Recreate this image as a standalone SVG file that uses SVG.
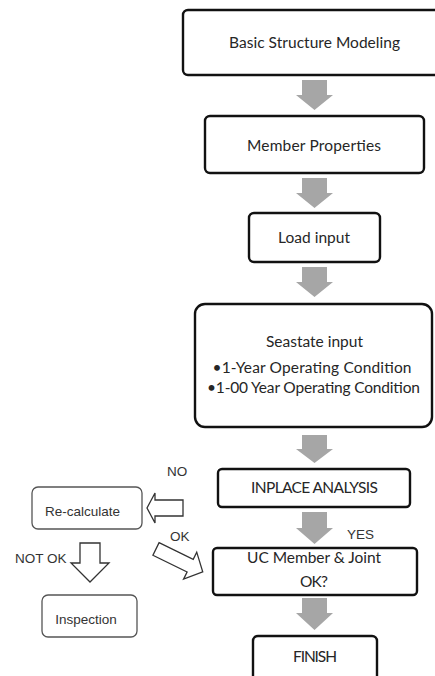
<svg xmlns="http://www.w3.org/2000/svg" width="435" height="676" viewBox="0 0 435 676">
<style>
.main{fill:#fff;stroke:#111;stroke-width:2.4}
.side{fill:#fff;stroke:#555;stroke-width:1.3}
.t{font-family:Lato,"Open Sans",sans-serif;font-size:15.5px;fill:#262626;text-anchor:middle}
.s{font-family:"Liberation Sans",Arial,sans-serif;font-size:13.5px;fill:#333}
.g{fill:#a6a6a6}
.h{fill:#fff;stroke:#333;stroke-width:1.3;stroke-linejoin:miter}
</style>
<rect width="435" height="676" fill="#fff"/>
<g id="connectors">
<polygon class="g" points="302,80 327,80 327,95 333,95 314.5,110 296,95 302,95"/>
<polygon class="g" points="302,178 327,178 327,193 333,193 314.5,208 296,193 302,193"/>
<polygon class="g" points="302,267 327,267 327,282 333,282 314.5,297 296,282 302,282"/>
<polygon class="g" points="302,435 327,435 327,449 333,449 314.5,463 296,449 302,449"/>
<polygon class="g" points="302,512 327,512 327,528 333,528 314.5,544 296,528 302,528"/>
<polygon class="g" points="302,598 327,598 327,613 333,613 314.5,630 296,613 302,613"/>
<polygon class="h" points="183,500 183,516 155,516 155,523 147,508 155,493 155,500"/>
<polygon class="h" points="80,543 100,543 100,563 109,563 90,582 71,563 80,563"/>
<polygon class="h" transform="translate(156,549) rotate(26)" points="0,-7 38,-7 38,-15 52,0 38,15 38,7 0,7"/>
<text class="s" x="167" y="476">NO</text>
<text class="s" x="347" y="539">YES</text>
<text class="s" x="170" y="541">OK</text>
<text class="s" x="15" y="563">NOT OK</text>
</g>
<g id="basic">
<rect class="main" x="183" y="10" width="262" height="65" rx="5"/>
<text class="t" x="314.5" y="48" textLength="171">Basic Structure Modeling</text>
</g>
<g id="member">
<rect class="main" x="205" y="116" width="219" height="57" rx="5"/>
<text class="t" x="314" y="151" textLength="134">Member Properties</text>
</g>
<g id="load">
<rect class="main" x="249" y="213" width="131" height="49" rx="5"/>
<text class="t" x="314" y="243" textLength="72">Load input</text>
</g>
<g id="seastate">
<rect class="main" x="195" y="304" width="237" height="123" rx="10"/>
<text class="t" x="314.5" y="347" textLength="97">Seastate input</text>
<text class="t" x="312" y="373" textLength="199">•1-Year Operating Condition</text>
<text class="t" x="313.5" y="393" textLength="213">•1-00 Year Operating Condition</text>
</g>
<g id="inplace">
<rect class="main" x="218" y="469" width="192" height="38" rx="4"/>
<text class="t" x="314.5" y="493" textLength="127">INPLACE ANALYSIS</text>
</g>
<g id="recalc">
<rect class="side" x="32" y="487" width="110" height="42" rx="6"/>
<text class="s" x="82.5" y="516" text-anchor="middle">Re-calculate</text>
</g>
<g id="uc">
<rect class="main" x="213" y="548" width="204" height="47" rx="4"/>
<text class="t" x="314" y="563" textLength="134">UC Member &amp; Joint</text>
<text class="t" x="314" y="587" textLength="28">OK?</text>
</g>
<g id="inspection">
<rect class="side" x="42" y="595" width="95" height="42" rx="6"/>
<text class="s" x="86" y="624" text-anchor="middle">Inspection</text>
</g>
<g id="finish">
<rect class="main" x="253" y="636" width="124" height="60" rx="5"/>
<text class="t" x="315" y="662" textLength="44">FINISH</text>
</g>
</svg>
